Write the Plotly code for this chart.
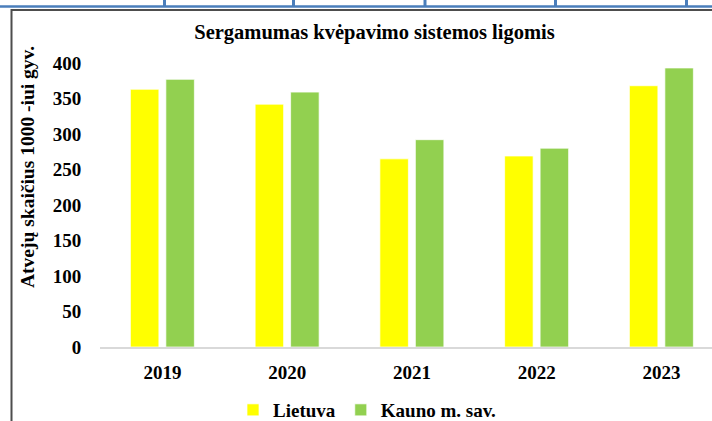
import plotly.graph_objects as go

# Respiratory disease incidence per 1000 residents
years = ["2019", "2020", "2021", "2022", "2023"]
lietuva = [363, 342, 265, 269, 368]
kaunas = [377, 359, 292, 280, 393]
series_names = ["Lietuva", "Kauno m. sav."]
series_colors = ["#FFFF00", "#92D050"]
y_ticks = [0, 50, 100, 150, 200, 250, 300, 350, 400]

W, H = 712, 421
L, R, T, B = 100, 0, 63, 74
PW, PH = W - L - R, H - T - B


def px_x(px):
    return (px - L) / PW


def px_y(py):
    return (H - B - py) / PH


def bold(s):
    return "<b>" + str(s) + "</b>"


FONT = "Liberation Serif, Times New Roman, serif"
TXT = dict(family=FONT, size=19, color="black")

fig = go.Figure()
for name, vals, col in zip(series_names, [lietuva, kaunas], series_colors):
    fig.add_trace(go.Bar(
        x=years, y=vals, name=bold(name),
        marker=dict(color=col, line=dict(color="rgba(255,255,255,0.7)", width=1)),
    ))

# Page frame: blue table rule on top, dark border round the chart
shapes = [
    dict(type="line", xref="paper", yref="paper", x0=px_x(0), x1=px_x(W), y0=px_y(6.5), y1=px_y(6.5),
         line=dict(color="#4A7EBB", width=2.5)),
    dict(type="line", xref="paper", yref="paper", x0=px_x(11.5), x1=px_x(W), y0=px_y(10), y1=px_y(10),
         line=dict(color="#4D4D4D", width=2)),
    dict(type="line", xref="paper", yref="paper", x0=px_x(11.5), x1=px_x(11.5), y0=px_y(9), y1=px_y(H),
         line=dict(color="#4D4D4D", width=2)),
]
for vx in [164.5, 293.5, 425, 555.5, 686.5]:
    shapes.append(dict(type="line", xref="paper", yref="paper", x0=px_x(vx), x1=px_x(vx),
                       y0=px_y(0), y1=px_y(7), line=dict(color="#4A7EBB", width=3)))

fig.update_layout(
    width=W, height=H,
    margin=dict(l=L, r=R, t=T, b=B, autoexpand=False),
    paper_bgcolor="white", plot_bgcolor="white",
    font=TXT,
    barmode="group", bargap=0.431, bargroupgap=0.197,
    title=dict(text=bold("Sergamumas kvėpavimo sistemos ligomis"), x=374.5 / W, xanchor="center",
               y=1 - 32 / H, yanchor="middle", font=dict(family=FONT, size=20.5, color="black")),
    xaxis=dict(range=[-0.5, -0.5 + PW / 124.75], showgrid=False, zeroline=False,
               showline=True, linecolor="#D9D9D9", linewidth=1.5,
               tickvals=years, ticktext=[bold(y) for y in years],
               ticks="outside", ticklen=7, tickcolor="rgba(0,0,0,0)",
               tickfont=TXT, fixedrange=True),
    yaxis=dict(range=[0, 400], tickvals=y_ticks, ticktext=[bold(v) for v in y_ticks],
               showgrid=False, zeroline=False, showline=False,
               ticks="outside", ticklen=14, tickcolor="rgba(0,0,0,0)",
               tickfont=TXT, fixedrange=True),
    legend=dict(orientation="h", x=px_x(233), xanchor="left", y=px_y(410), yanchor="middle",
                bgcolor="rgba(0,0,0,0)", tracegroupgap=0, itemwidth=30,
                font=TXT, itemclick=False),
    shapes=shapes,
    annotations=[dict(text=bold("Atvejų skaičius 1000 -iui gyv."), textangle=-90,
                      xref="paper", yref="paper", x=px_x(27), y=px_y(167),
                      xanchor="center", yanchor="middle", showarrow=False,
                      font=dict(family=FONT, size=19.5, color="black"))],
)

fig.write_html("out.html")
